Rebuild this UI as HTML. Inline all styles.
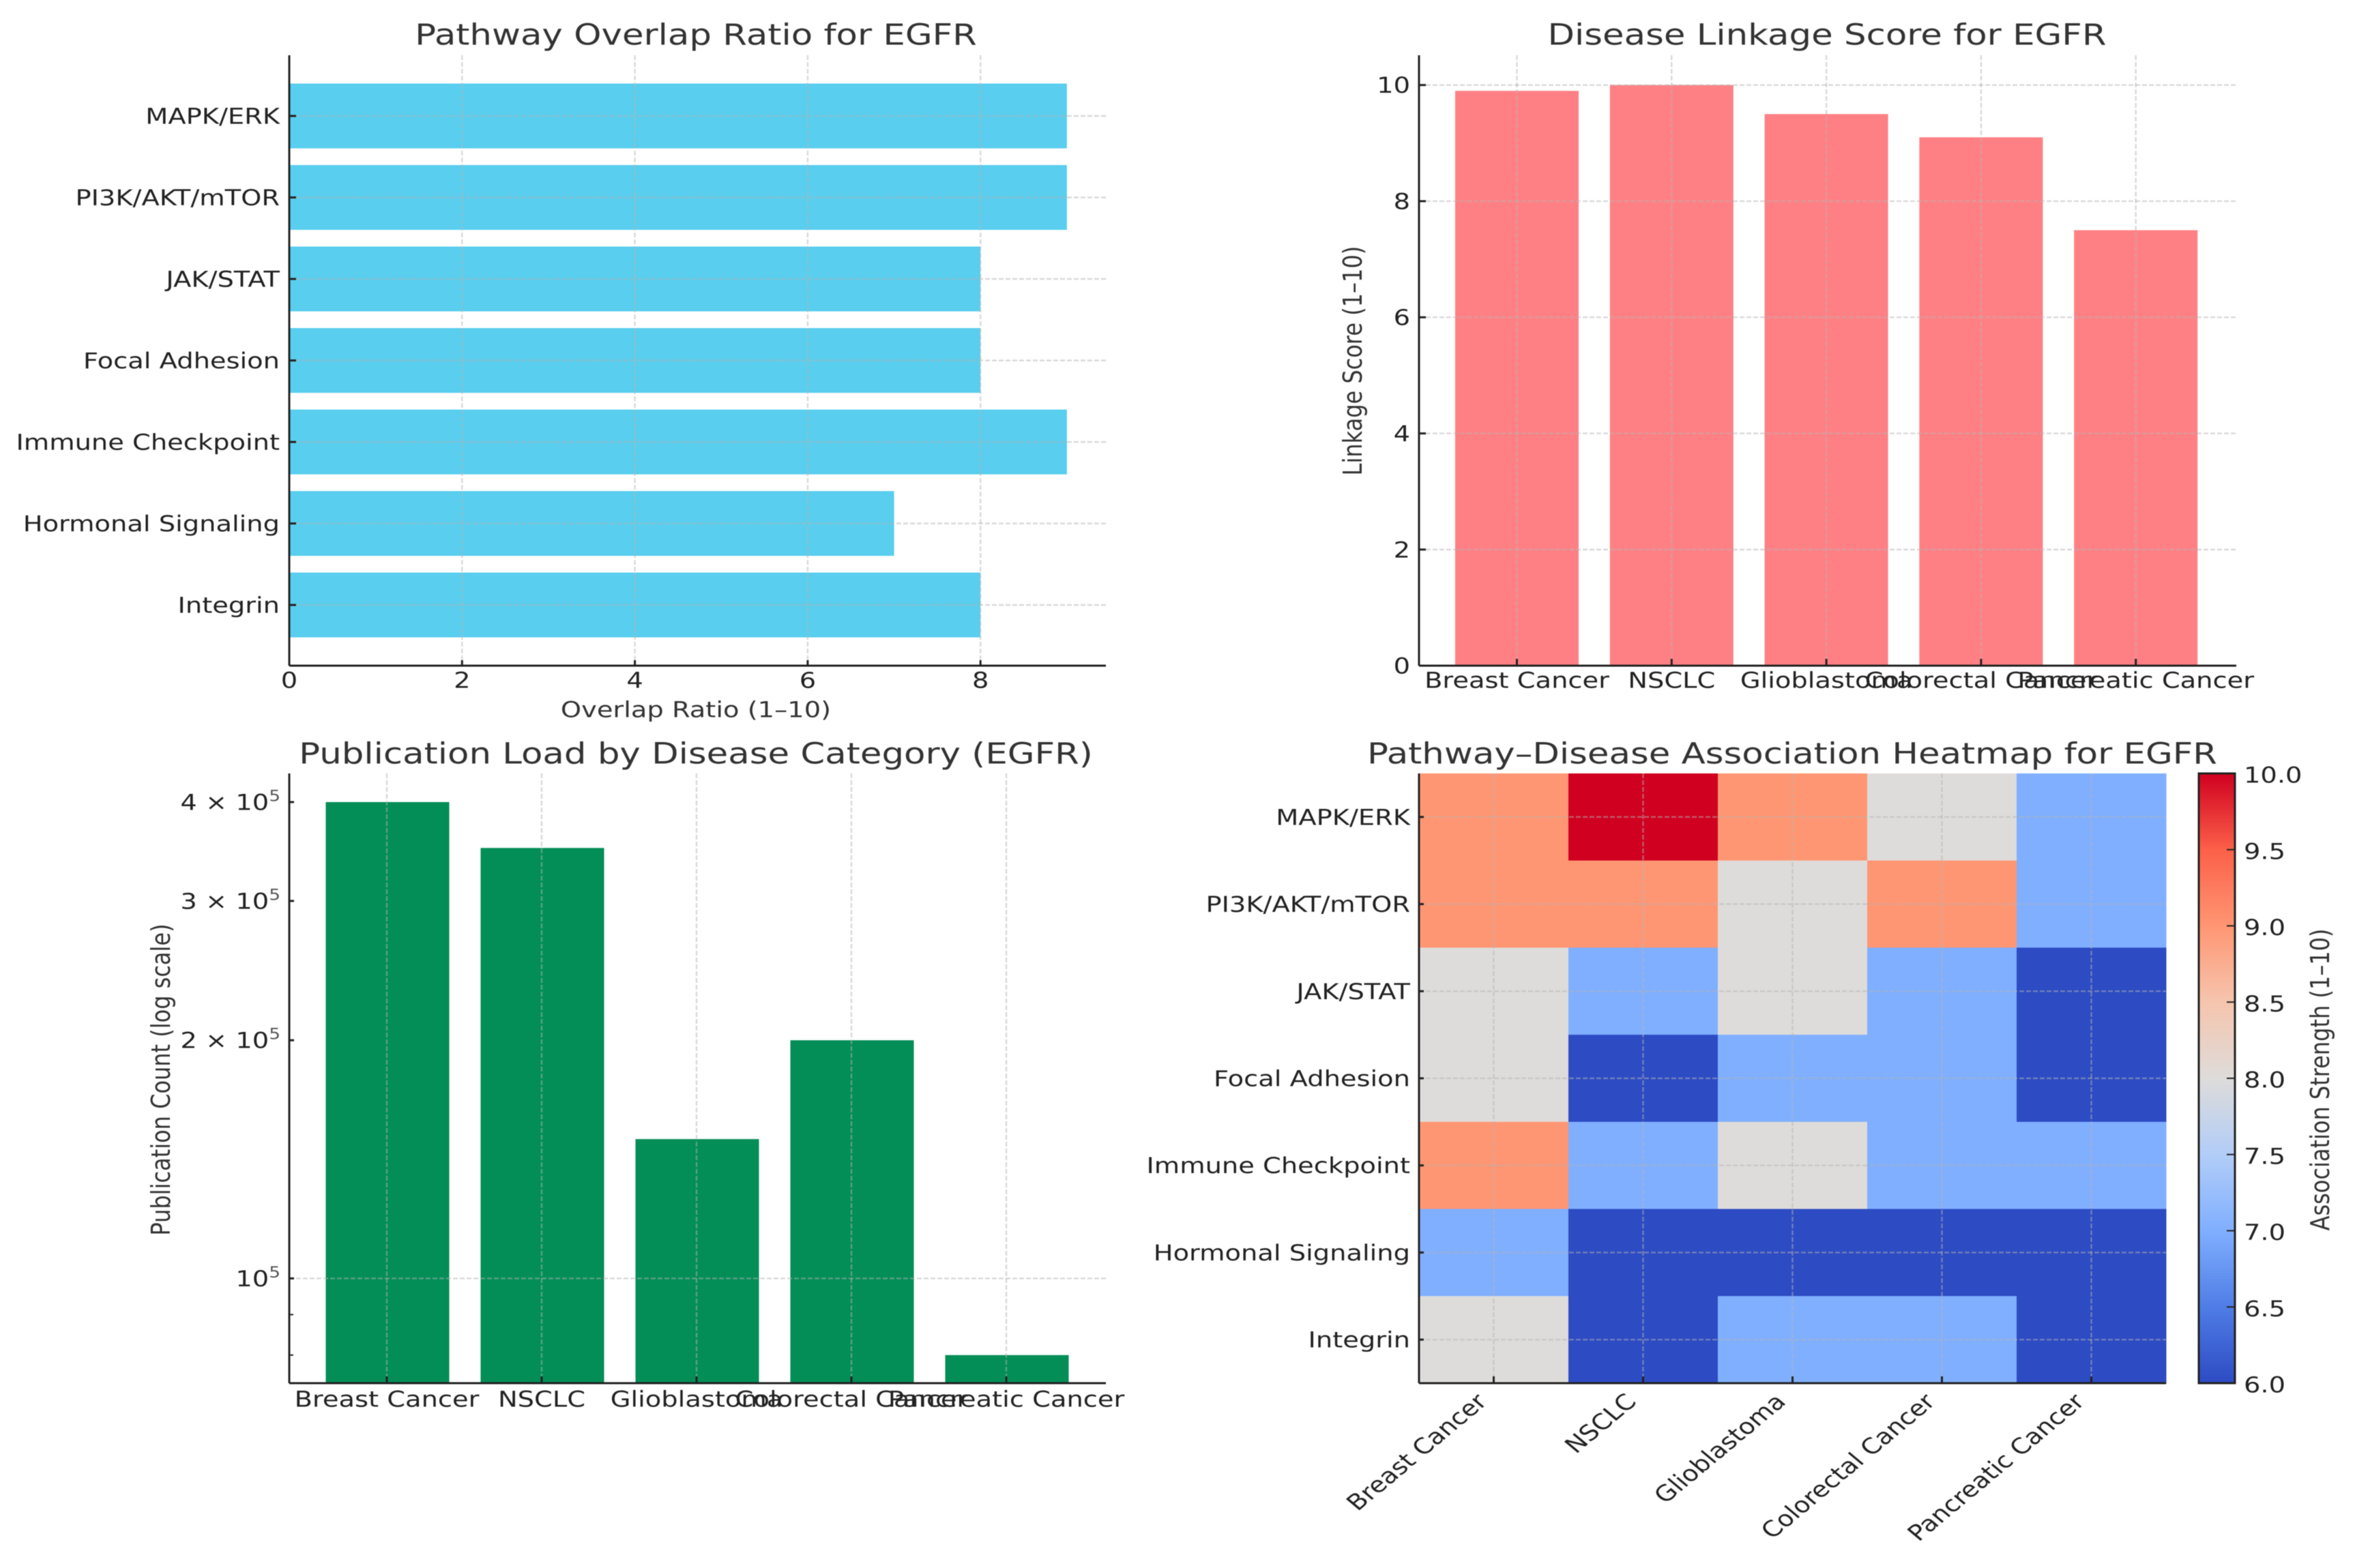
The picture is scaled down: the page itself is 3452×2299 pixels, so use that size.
<!DOCTYPE html>
<html lang="en">
<head>
<meta charset="utf-8">
<title>EGFR Pathway and Disease Charts</title>
<style>
html,body{margin:0;padding:0;background:#fff;width:3452px;height:2299px;overflow:hidden}
svg{display:block;filter:blur(0.6px)}
text{font-family:"DejaVu Sans","Liberation Sans",sans-serif}
</style>
</head>
<body>
<svg id="root" xmlns="http://www.w3.org/2000/svg" width="3452" height="2299" viewBox="0 0 3452 2299">
<defs>
<linearGradient id="cbar-gradient" x1="0" y1="1" x2="0" y2="0"></linearGradient>
</defs>
<rect x="0" y="0" width="3452" height="2299" fill="#ffffff"/>
</svg>
<script>
// ---- data ----
const pathways = ["MAPK/ERK","PI3K/AKT/mTOR","JAK/STAT","Focal Adhesion","Immune Checkpoint","Hormonal Signaling","Integrin"];
const diseases = ["Breast Cancer","NSCLC","Glioblastoma","Colorectal Cancer","Pancreatic Cancer"];
const overlapValues = [9,9,8,8,9,7,8];
const overlapTicks = [0,2,4,6,8];
const linkageValues = [9.9,10,9.5,9.1,7.5];
const linkageTicks = [0,2,4,6,8,10];
const publicationValues = [400000,350000,150000,200000,80000];
const publicationTicks = [400000,300000,200000,100000];
const publicationTickLabels = ["4 × 10","3 × 10","2 × 10","10"];
const publicationMinorTicks = [90000,80000];
const heatRow0 = [9,10,9,8,7];
const heatRow1 = [9,9,8,9,7];
const heatRow2 = [8,7,8,7,6];
const heatRow3 = [8,6,7,7,6];
const heatRow4 = [9,7,8,7,7];
const heatRow5 = [7,6,6,6,6];
const heatRow6 = [8,6,7,7,6];
const heatValues = [heatRow0,heatRow1,heatRow2,heatRow3,heatRow4,heatRow5,heatRow6];
const colorbarTicks = [6,6.5,7,7.5,8,8.5,9,9.5,10];
const colormapValues = [6,6.5,7,7.5,8,8.5,9,9.5,10];
const colormapColors = ["#2d4bc3","#4f7de6","#80afff","#b2cdf8","#dedcda","#f6c5ae","#ff9673","#fc6049","#d00020"];

// ---- helpers ----
const NS = "http://www.w3.org/2000/svg";
const root = document.getElementById("root");
const SX = 1.2;
const TICK_SIZE = 32;
const LABEL_SIZE = 32;
const TITLE_SIZE = 42.8;
const GRID = "#b4b4b4";
const GRID_DASH = "7 3";
const GRID_WIDTH = 2.4;
const GRID_OPACITY = 0.5;
const AXIS = "#222222";

function group(name){
  const g = document.createElementNS(NS,"g");
  
  
  root.appendChild(g);
  return g;
}
function shape(parent,tag,props,name){
  const el = document.createElementNS(NS,tag);
  for(const k in props){ el.setAttribute(k,props[k]); }
  
  
  parent.appendChild(el);
  return el;
}
function line(parent,x1,y1,x2,y2,stroke,width,name,dash,opacity){
  const props = {x1:x1,y1:y1,x2:x2,y2:y2,stroke:stroke,"stroke-width":width};
  if(dash){ props["stroke-dasharray"]=dash; }
  if(opacity){ props["stroke-opacity"]=opacity; }
  return shape(parent,"line",props,name);
}
function gridLine(parent,x1,y1,x2,y2,name){
  return line(parent,x1,y1,x2,y2,GRID,GRID_WIDTH,name,GRID_DASH,GRID_OPACITY);
}
function label(parent,str,x,y,size,anchor,rot,fill,name){
  const el = document.createElementNS(NS,"text");
  el.setAttribute("transform","translate("+x+" "+y+") scale("+SX+",1) rotate("+rot+")");
  el.setAttribute("font-size",size);
  el.setAttribute("text-anchor",anchor);
  el.setAttribute("fill",fill);
  el.textContent = str;
  
  
  parent.appendChild(el);
  return el;
}
function slug(s){ return s.toLowerCase().replace(/[^a-z0-9]+/g,"-"); }
function colorFor(v){
  for(let i=0;i<colormapValues.length-1;i++){
    if(v<=colormapValues[i+1]){
      const t=(v-colormapValues[i])/(colormapValues[i+1]-colormapValues[i]);
      const a=colormapColors[i], b=colormapColors[i+1];
      const ch=n=>{
        const p=parseInt(a.substr(n,2),16), q=parseInt(b.substr(n,2),16);
        return Math.round(p+(q-p)*Math.max(0,t));
      };
      return "rgb("+ch(1)+","+ch(3)+","+ch(5)+")";
    }
  }
  return colormapColors[colormapColors.length-1];
}
const mid = s => s*0.36;

// ---- chart 1: pathway overlap (horizontal bars) ----
(function(){
  const g = group("pathway-overlap-chart");
  const L=424,R=1621,T=81,B=976;
  const xS = v => L + v*126.65;
  const yS = i => 170 + i*119.5;
  overlapValues.forEach((v,i)=>{
    shape(g,"rect",{x:xS(0),y:yS(i)-47.5,width:xS(v)-xS(0),height:95,fill:"#59ceee"},"overlap-bar-"+slug(pathways[i]));
  });
  overlapTicks.forEach(t=>{
    if(t>0){ gridLine(g,xS(t),T,xS(t),B,"overlap-x-gridline-"+t); }
    line(g,xS(t),B-8,xS(t),B,AXIS,3,"overlap-x-tick-"+t);
    label(g,String(t),xS(t),997+mid(TICK_SIZE),TICK_SIZE,"middle",0,"#222","overlap-x-tick-label-"+t);
  });
  pathways.forEach((p,i)=>{
    gridLine(g,L,yS(i),R,yS(i),"overlap-y-gridline-"+slug(p));
    line(g,L,yS(i),L+10,yS(i),AXIS,3,"overlap-y-tick-"+slug(p));
    label(g,p,410,yS(i)+mid(TICK_SIZE),TICK_SIZE,"end",0,"#222","overlap-y-label-"+slug(p));
  });
  line(g,L,T,L,B,AXIS,3,"overlap-y-axis");
  line(g,L,B,R,B,AXIS,3,"overlap-x-axis");
  label(g,"Pathway Overlap Ratio for EGFR",1020,50+mid(TITLE_SIZE),TITLE_SIZE,"middle",0,"#333","overlap-title");
  label(g,"Overlap Ratio (1–10)",1020,1040+mid(LABEL_SIZE),LABEL_SIZE,"middle",0,"#333","overlap-x-axis-title");
})();

// ---- chart 2: disease linkage (vertical bars) ----
(function(){
  const g = group("disease-linkage-chart");
  const L=2080,R=3278,T=81,B=976;
  const xS = i => 2223.5 + i*226.8;
  const yS = v => B - v*85.13;
  linkageValues.forEach((v,i)=>{
    shape(g,"rect",{x:xS(i)-90.5,y:yS(v),width:181,height:B-yS(v),fill:"#ff8084"},"linkage-bar-"+slug(diseases[i]));
  });
  linkageTicks.forEach(t=>{
    if(t>0){ gridLine(g,L,yS(t),R,yS(t),"linkage-y-gridline-"+t); }
    line(g,L,yS(t),L+10,yS(t),AXIS,3,"linkage-y-tick-"+t);
    label(g,String(t),2067,yS(t)+mid(TICK_SIZE),TICK_SIZE,"end",0,"#222","linkage-y-tick-label-"+t);
  });
  diseases.forEach((d,i)=>{
    gridLine(g,xS(i),T,xS(i),B,"linkage-x-gridline-"+slug(d));
    line(g,xS(i),B-10,xS(i),B,AXIS,3,"linkage-x-tick-"+slug(d));
    label(g,d,xS(i),997+mid(TICK_SIZE),TICK_SIZE,"middle",0,"#222","linkage-x-label-"+slug(d));
  });
  line(g,L,T,L,B,AXIS,3,"linkage-y-axis");
  line(g,L,B,R,B,AXIS,3,"linkage-x-axis");
  label(g,"Disease Linkage Score for EGFR",2678,50+mid(TITLE_SIZE),TITLE_SIZE,"middle",0,"#333","linkage-title");
  label(g,"Linkage Score (1–10)",1985+11,529,LABEL_SIZE,"middle",-90,"#333","linkage-y-axis-title");
})();

// ---- chart 3: publication load (log bars) ----
(function(){
  const g = group("publication-load-chart");
  const L=424,R=1621,T=1134,B=2028;
  const xS = i => 568 + i*227;
  const yS = v => 1874.4 - 1160*Math.log10(v/100000);
  publicationValues.forEach((v,i)=>{
    shape(g,"rect",{x:xS(i)-90.5,y:yS(v),width:181,height:B-yS(v),fill:"#038e57"},"publication-bar-"+slug(diseases[i]));
  });
  publicationTicks.forEach((t,i)=>{
    const y=yS(t);
    if(t===100000){ gridLine(g,L,y,R,y,"publication-y-gridline-1e5"); }
    line(g,L,y,L+7,y,AXIS,3,"publication-y-tick-"+i);
    const el = label(g,publicationTickLabels[i],411,y+mid(TICK_SIZE),TICK_SIZE,"end",0,"#222","publication-y-tick-label-"+i);
    const sup = document.createElementNS(NS,"tspan");
    sup.setAttribute("font-size",22);
    sup.setAttribute("dy",-13);
    sup.setAttribute("fill","#555");
    sup.textContent = "5";
    el.appendChild(sup);
  });
  publicationMinorTicks.forEach((t,i)=>{
    line(g,L,yS(t),L+6,yS(t),AXIS,2,"publication-minor-tick-"+i);
  });
  diseases.forEach((d,i)=>{
    gridLine(g,xS(i)-1,T,xS(i)-1,B,"publication-x-gridline-"+slug(d));
    line(g,xS(i)-1,B-10,xS(i)-1,B,AXIS,3,"publication-x-tick-"+slug(d));
    label(g,d,xS(i)-1,2051+mid(TICK_SIZE),TICK_SIZE,"middle",0,"#222","publication-x-label-"+slug(d));
  });
  line(g,L,T,L,B,AXIS,3,"publication-y-axis");
  line(g,L,B,R,B,AXIS,3,"publication-x-axis");
  label(g,"Publication Load by Disease Category (EGFR)",1020,1104+mid(TITLE_SIZE),TITLE_SIZE,"middle",0,"#333","publication-title");
  label(g,"Publication Count (log scale)",238+11,1583,LABEL_SIZE,"middle",-90,"#333","publication-y-axis-title");
})();

// ---- chart 4: heatmap + colorbar ----
(function(){
  const g = group("pathway-disease-heatmap");
  const L=2080,R=3175,T=1134,B=2028;
  const cw=(R-L)/diseases.length, ch=(B-T)/pathways.length;
  const xS = c => L + c*cw;
  const yS = r => T + r*ch;
  heatValues.forEach((row,r)=>{
    row.forEach((v,c)=>{
      shape(g,"rect",{x:xS(c),y:yS(r),width:cw+0.5,height:ch+0.5,fill:colorFor(v)},"heat-cell-"+slug(pathways[r])+"-"+slug(diseases[c]));
    });
  });
  pathways.forEach((p,r)=>{
    const y=yS(r)+ch/2;
    gridLine(g,L,y,R,y,"heat-y-gridline-"+slug(p));
    line(g,L,y,L+7,y,AXIS,3,"heat-y-tick-"+slug(p));
    label(g,p,2067,y+mid(TICK_SIZE),TICK_SIZE,"end",0,"#222","heat-y-label-"+slug(p));
  });
  diseases.forEach((d,c)=>{
    const x=xS(c)+cw/2;
    gridLine(g,x,T,x,B,"heat-x-gridline-"+slug(d));
    line(g,x,B-10,x,B,AXIS,3,"heat-x-tick-"+slug(d));
    label(g,d,x-8,2057,TICK_SIZE,"end",-45,"#222","heat-x-label-"+slug(d));
  });
  line(g,L,T,L,B,AXIS,3,"heat-y-axis");
  line(g,L,B,R,B,AXIS,3,"heat-x-axis");
  label(g,"Pathway–Disease Association Heatmap for EGFR",2627,1104+mid(TITLE_SIZE),TITLE_SIZE,"middle",0,"#333","heat-title");

  const grad = document.getElementById("cbar-gradient");
  colormapValues.forEach((v,i)=>{
    const s = document.createElementNS(NS,"stop");
    s.setAttribute("offset",(v-6)/4);
    s.setAttribute("stop-color",colormapColors[i]);
    grad.appendChild(s);
  });
  const CL=3223,CR=3276;
  const yC = v => B - (v-6)/4*(B-T);
  shape(g,"rect",{x:CL,y:T,width:CR-CL,height:B-T,fill:"url(#cbar-gradient)",stroke:"#222","stroke-width":3},"colorbar");
  colorbarTicks.forEach(t=>{
    line(g,CR-12,yC(t),CR,yC(t),AXIS,2,"colorbar-tick-"+t);
    label(g,t.toFixed(1),3289,yC(t)+2+mid(TICK_SIZE),TICK_SIZE,"start",0,"#222","colorbar-tick-label-"+t);
  });
  label(g,"Association Strength (1–10)",3401+13,1583,LABEL_SIZE,"middle",-90,"#333","colorbar-title");
})();
</script>
</body>
</html>
